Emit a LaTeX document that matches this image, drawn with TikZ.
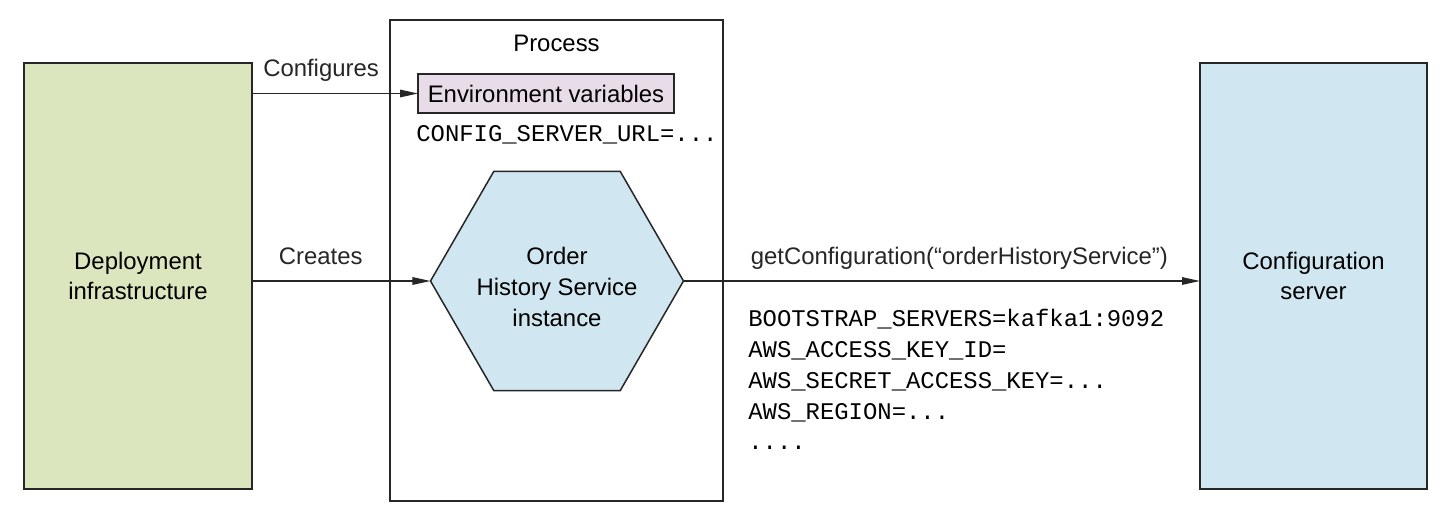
\documentclass[tikz,border=0pt]{standalone}
\usepackage{fontspec}
\setmainfont{Liberation Sans}
\setmonofont{Liberation Mono}
\usepackage{xcolor}
\definecolor{deploygreen}{HTML}{DCE6BE}
\definecolor{cfgblue}{HTML}{D0E6F0}
\definecolor{envlilac}{HTML}{E8DCE8}
\definecolor{edge}{HTML}{262626}
\usetikzlibrary{arrows.meta,positioning,shapes.geometric}

\begin{document}
\begin{tikzpicture}[
  font=\fontsize{13.6}{17.4}\selectfont,
  box/.style={rectangle, draw=edge, line width=0.85pt, inner sep=0pt, outer sep=0pt, align=center},
  infra/.style={box, fill=deploygreen, minimum width=4.56cm, minimum height=8.52cm},
  server/.style={box, fill=cfgblue, minimum width=4.54cm, minimum height=8.52cm},
  proc/.style={box, fill=white, minimum width=6.66cm, minimum height=9.62cm},
  env/.style={box, fill=envlilac, minimum width=5.12cm, minimum height=0.78cm},
  svc/.style={regular polygon, regular polygon sides=6, draw=edge, line width=0.85pt, fill=cfgblue, minimum size=5.06cm, inner sep=0pt, outer sep=0pt},
  mono/.style={font=\fontsize{13.6}{17.4}\selectfont\ttfamily, anchor=base west, inner sep=0pt},
  a/.style={-{Triangle[length=3.6mm, width=1.5mm]}, line width=0.85pt, edge},
  lab/.style={anchor=base, yshift=9.6pt, inner sep=0pt},
]
\useasboundingbox (0,0) rectangle (28.88,10.16);
% ---------------- outer boxes
\node[infra] (dep) at (2.76,4.64) {Deployment\\infrastructure};
\node[proc] (proc) at (11.13,4.95) {};
\node[server] (cfg) at (26.27,4.64) {Configuration\\server};
% ---------------- inside the process
\node[anchor=base, inner sep=0pt] (proclab) at (11.13,9.12) {Process};
\node[env] (env) at (10.92,8.29) {Environment variables};
\node[mono] (url) at (8.32,7.32) {CONFIG\_SERVER\_URL=...};
\node[svc] (hex) at (11.14,4.54) {};
\node[align=center, inner sep=0pt] (hextxt) at ([yshift=-3.4pt]hex.center) {Order\\History Service\\instance};
% ---------------- connectors
\draw[a] (dep.east |- env.west) -- node[lab, pos=0.416] {Configures} (env.west);
\draw[a] (dep.east |- hex.west) -- node[lab, pos=0.385] {Creates} (hex.west);
\draw[a] (hex.east) -- node[lab, pos=0.534] {getConfiguration(“orderHistoryService”)} (cfg.west |- hex.east);
% ---------------- returned properties
\node[mono] (prop0) at (14.96,3.62) {BOOTSTRAP\_SERVERS=kafka1:9092};
\node[mono] (prop1) at (14.96,3.006) {AWS\_ACCESS\_KEY\_ID=};
\node[mono] (prop2) at (14.96,2.392) {AWS\_SECRET\_ACCESS\_KEY=...};
\node[mono] (prop3) at (14.96,1.778) {AWS\_REGION=...};
\node[mono] (prop4) at (14.96,1.164) {....};
\end{tikzpicture}
\end{document}
